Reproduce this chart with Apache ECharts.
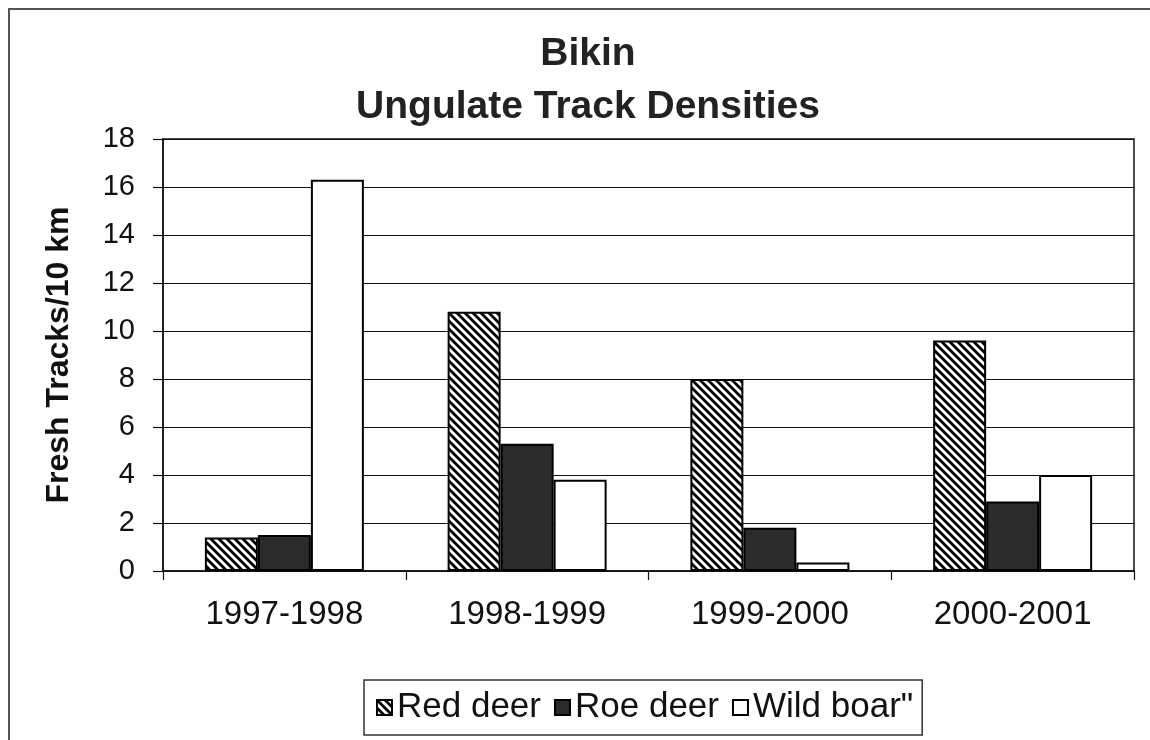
<!DOCTYPE html>
<html>
<head>
<meta charset="utf-8">
<script src="https://cdn.jsdelivr.net/npm/echarts@6/dist/echarts.min.js"></script>
<style>
  html, body { margin: 0; padding: 0; background: #fff; }
  #chart { width: 1150px; height: 740px; }
</style>
</head>
<body>
<div id="chart"></div>
<script>
const categories = ['1997-1998', '1998-1999', '1999-2000', '2000-2001'];
const seriesNames = ['Red deer', 'Roe deer', 'Wild boar"'];
const redDeer = [1.4, 10.8, 8.0, 9.6];
const roeDeer = [1.5, 5.3, 1.8, 2.9];
const wildBoar = [16.3, 3.8, 0.35, 4.0];
const yTicks = [0, 2, 4, 6, 8, 10, 12, 14, 16, 18];

function hatch() {
  const s = 8;
  const c = document.createElement('canvas');
  c.width = s; c.height = s;
  const ctx = c.getContext('2d');
  ctx.fillStyle = '#fff';
  ctx.fillRect(0, 0, s, s);
  ctx.strokeStyle = '#000';
  ctx.lineWidth = 2.8;
  ctx.beginPath();
  ctx.moveTo(-2, -2); ctx.lineTo(s + 2, s + 2);
  ctx.moveTo(-2, s - 2); ctx.lineTo(2, s + 2);
  ctx.moveTo(s - 2, -2); ctx.lineTo(s + 2, 2);
  ctx.stroke();
  return c;
}

const FONT = '"Liberation Sans", Arial, sans-serif';
const chart = echarts.init(document.getElementById('chart'), null, { renderer: 'canvas' });
const barBase = { type: 'bar', barWidth: 53, barGap: '0%', animation: false };

chart.setOption({
  backgroundColor: '#fff',
  textStyle: { fontFamily: FONT, color: '#000' },
  graphic: [{
    type: 'rect', shape: { x: 9, y: 9, width: 1160, height: 760 },
    style: { fill: 'none', stroke: '#555', lineWidth: 2 }, silent: true
  }],
  title: {
    text: 'Bikin\nUngulate Track Densities',
    left: 583, top: 23, textAlign: 'center',
    textStyle: { fontFamily: FONT, fontSize: 39, fontWeight: 'bold', color: '#222', lineHeight: 53 }
  },
  legend: {
    data: seriesNames,
    left: 364, top: 680,
    orient: 'horizontal',
    icon: 'rect',
    itemWidth: 15, itemHeight: 15, itemGap: 13,
    padding: [10, 9, 10, 12],
    borderColor: '#333', borderWidth: 1.5,
    textStyle: { fontFamily: FONT, fontSize: 35, color: '#111' }
  },
  grid: {
    left: 163, right: 16, top: 139, bottom: 169,
    show: true, borderColor: '#111', borderWidth: 1.5, backgroundColor: 'transparent'
  },
  xAxis: {
    type: 'category', data: categories,
    axisLine: { lineStyle: { color: '#111', width: 1.5 } },
    axisTick: { show: true, length: 9, lineStyle: { color: '#111', width: 1.2 } },
    axisLabel: { fontFamily: FONT, fontSize: 33, color: '#111', margin: 27 }
  },
  yAxis: {
    type: 'value', min: 0, max: 18, interval: 2,
    name: 'Fresh Tracks/10 km', nameLocation: 'middle', nameGap: 88,
    nameTextStyle: { fontFamily: FONT, fontSize: 32, fontWeight: 'bold', color: '#111' },
    axisLine: { show: true, lineStyle: { color: '#111', width: 1.5 } },
    axisTick: { show: true, length: 10, lineStyle: { color: '#111', width: 1.2 } },
    axisLabel: {
      fontFamily: FONT, fontSize: 29, color: '#111', margin: 28,
      formatter: v => (yTicks.indexOf(v) >= 0 ? String(v) : '')
    },
    splitLine: { show: true, lineStyle: { color: '#111', width: 1.2 } }
  },
  series: [
    Object.assign({}, barBase, {
      name: seriesNames[0], data: redDeer,
      itemStyle: { color: { image: hatch(), repeat: 'repeat' }, borderColor: '#000', borderWidth: 2 }
    }),
    Object.assign({}, barBase, {
      name: seriesNames[1], data: roeDeer,
      itemStyle: { color: '#2b2b2b', borderColor: '#000', borderWidth: 2 }
    }),
    Object.assign({}, barBase, {
      name: seriesNames[2], data: wildBoar,
      itemStyle: { color: '#fff', borderColor: '#000', borderWidth: 2 }
    })
  ]
});
</script>
</body>
</html>
